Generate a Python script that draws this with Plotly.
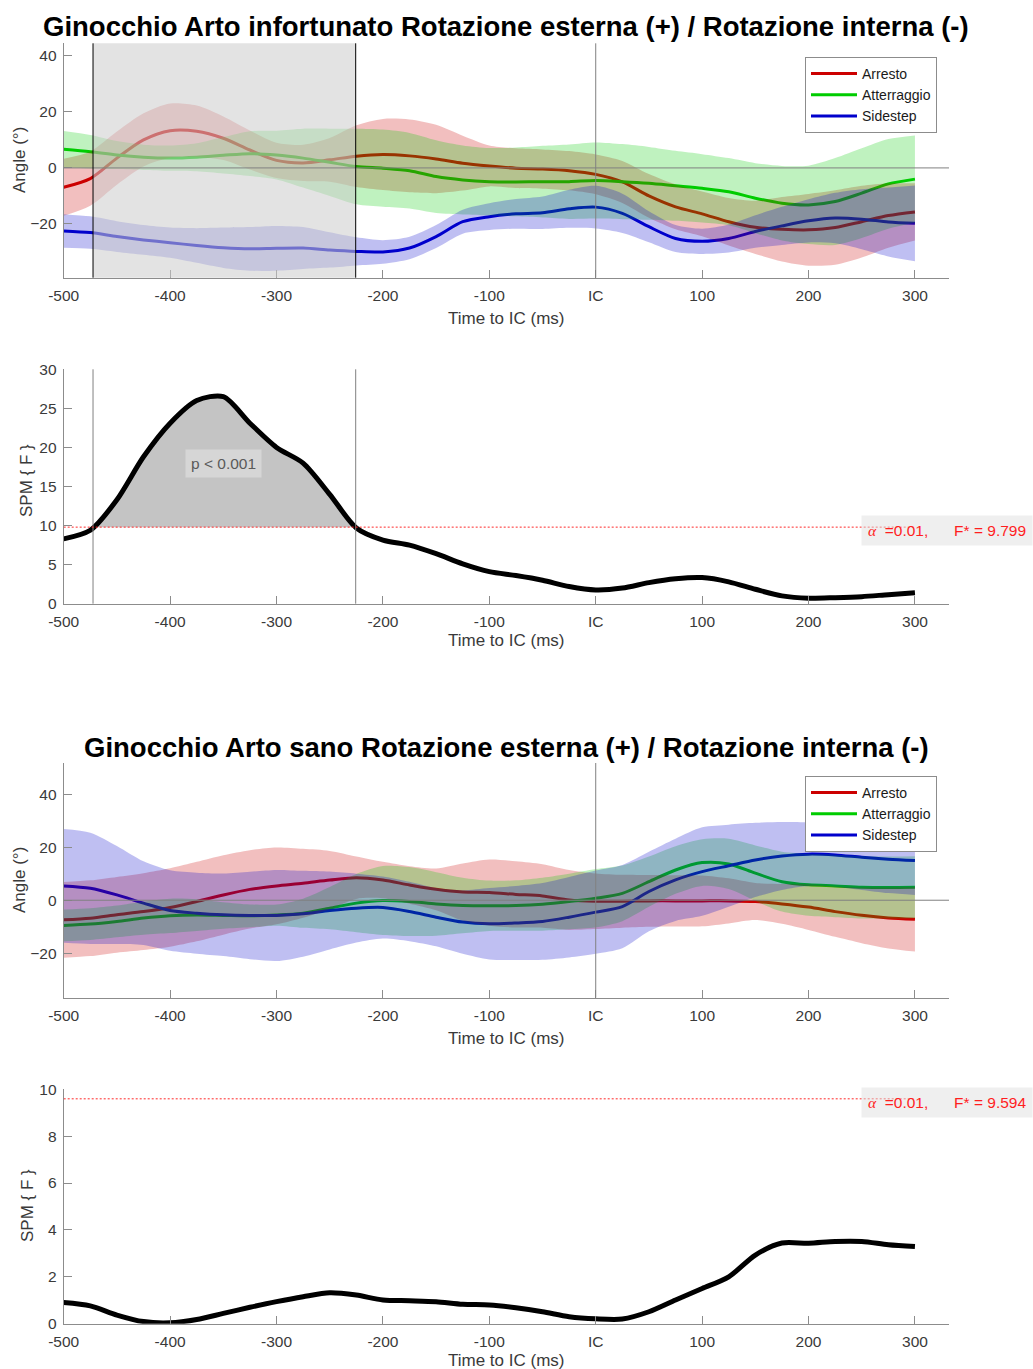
import plotly.graph_objects as go

W, H = 1033, 1369

# ---------------------------------------------------------------- data
time_ms = [-500, -475, -450, -425, -400, -375, -350, -325, -300, -275, -250,
           -225, -200, -175, -150, -125, -100, -75, -50, -25, 0, 25, 50, 75,
           100, 125, 150, 175, 200, 225, 250, 275, 300]

x_tick_vals = [-500, -400, -300, -200, -100, 0, 100, 200, 300]
x_tick_text = ["-500", "-400", "-300", "-200", "-100", "IC", "100", "200", "300"]

series_names = ["Arresto", "Atterraggio", "Sidestep"]

# Injured limb: mean and SD of knee rotation (deg)
inj_arresto_mean = [-6.9, -3.8, 3.5, 10.0, 13.3, 13.1, 10.6, 6.4, 2.7, 1.8, 2.9,
                    4.2, 4.8, 4.3, 3.2, 1.7, 0.7, -0.1, -0.4, -1.0, -2.3, -5.0,
                    -10.0, -13.9, -16.4, -19.2, -21.2, -21.9, -22.1, -21.3, -19.2,
                    -17.0, -15.7]
inj_arresto_sd = [10.2, 9.7, 9.5, 9.5, 9.7, 9.2, 7.8, 7.0, 6.3, 6.5, 7.8, 11.0,
                  12.7, 13.0, 12.2, 9.8, 7.3, 7.1, 7.0, 7.0, 7.1, 7.5, 7.8, 8.0,
                  8.0, 8.5, 9.5, 11.5, 12.8, 13.3, 12.8, 11.5, 10.2]
inj_atterraggio_mean = [6.7, 5.8, 4.6, 3.8, 3.5, 3.8, 4.5, 5.1, 4.6, 3.5, 2.0, 0.5,
                        -0.1, -1.0, -3.1, -4.3, -4.9, -5.0, -4.9, -4.9, -4.5, -4.9,
                        -5.5, -6.4, -7.3, -8.5, -10.8, -12.6, -13.2, -12.0, -9.0,
                        -5.7, -4.0]
inj_atterraggio_sd = [6.5, 6.0, 5.0, 4.5, 4.5, 5.0, 6.5, 8.0, 8.7, 10.5, 12.0, 13.5,
                      13.8, 13.5, 13.0, 12.3, 12.0, 12.3, 12.8, 13.3, 13.6, 13.4,
                      13.0, 12.5, 12.2, 12.0, 12.5, 13.3, 14.0, 15.5, 16.0, 16.0, 15.6]
inj_sidestep_mean = [-22.5, -23.1, -24.5, -25.7, -26.7, -27.7, -28.5, -28.9, -28.7,
                     -28.6, -29.3, -29.8, -30.0, -28.6, -24.5, -19.2, -17.4, -16.4,
                     -16.0, -14.6, -14.0, -16.2, -21.0, -25.2, -26.2, -25.2, -22.7,
                     -20.7, -18.9, -17.9, -18.3, -19.3, -19.8]
inj_sidestep_sd = [6.0, 5.8, 5.5, 5.3, 5.4, 6.2, 7.2, 7.8, 8.0, 7.5, 6.3, 5.0, 4.2,
                   4.0, 4.1, 4.3, 4.8, 5.3, 5.8, 6.8, 7.6, 7.0, 5.5, 4.8, 4.5, 5.0,
                   5.8, 6.8, 7.7, 9.0, 10.7, 12.3, 13.5]

# Injured limb: SPM{F} trajectory and critical threshold
inj_spm_f = [8.3, 9.4, 13.3, 18.8, 23.1, 26.0, 26.5, 23.1, 20.0, 18.0, 14.0, 9.7,
             8.15, 7.5, 6.4, 5.1, 4.1, 3.6, 3.0, 2.2, 1.76, 2.0, 2.7, 3.2, 3.35,
             2.8, 1.85, 1.0, 0.7, 0.77, 0.9, 1.16, 1.4]
inj_f_crit = 9.799
inj_p_label = "p < 0.001"

# Healthy limb: mean and SD of knee rotation (deg)
hea_arresto_mean = [-7.4, -6.8, -5.5, -4.3, -2.75, -0.5, 2.0, 4.1, 5.4, 6.4, 7.6,
                    8.5, 7.6, 5.75, 4.1, 3.1, 2.9, 2.2, 1.6, 0.1, -0.4, -0.4, -0.25,
                    -0.25, -0.25, -0.25, -0.5, -1.4, -2.6, -4.3, -5.7, -6.7, -7.2]
hea_arresto_sd = [14.3, 14.3, 14.3, 14.5, 14.8, 15.0, 15.0, 14.8, 14.5, 13.0, 11.0,
                  8.0, 6.9, 7.1, 7.9, 10.8, 12.5, 12.5, 12.0, 11.3, 10.5, 10.0, 9.8,
                  9.7, 9.6, 8.5, 7.0, 7.5, 8.6, 9.5, 10.5, 11.5, 12.2]
hea_atterraggio_mean = [-9.5, -9.0, -8.0, -6.75, -5.9, -5.6, -5.75, -5.9, -5.6, -4.9,
                        -3.0, -1.1, -0.1, -0.5, -1.4, -2.0, -2.1, -2.0, -1.5, -0.5,
                        0.75, 2.6, 7.0, 11.4, 14.2, 13.7, 10.2, 7.0, 5.8, 5.4, 4.9,
                        4.8, 4.9]
hea_atterraggio_sd = [6.0, 6.0, 6.0, 6.3, 6.5, 6.0, 5.0, 4.3, 4.0, 5.5, 8.0, 11.0,
                      13.0, 13.0, 12.0, 10.5, 9.5, 9.5, 10.0, 10.5, 11.0, 10.5, 9.5,
                      9.0, 8.8, 9.5, 10.5, 11.3, 11.7, 11.8, 11.8, 11.7, 11.7]
hea_sidestep_mean = [5.4, 4.5, 2.0, -1.1, -3.9, -4.9, -5.5, -5.75, -5.75, -5.1, -3.9,
                     -3.0, -2.75, -4.25, -6.4, -8.25, -8.9, -8.6, -8.0, -6.4, -4.5,
                     -2.4, 3.3, 7.7, 10.8, 13.0, 15.2, 16.7, 17.4, 17.1, 16.2, 15.5,
                     15.0]
hea_sidestep_sd = [21.5, 21.0, 18.5, 15.8, 15.2, 15.3, 15.6, 16.5, 17.2, 16.2, 14.7,
                   13.0, 11.7, 11.2, 11.0, 12.0, 13.5, 14.0, 14.5, 15.2, 15.7, 15.7,
                   15.0, 15.5, 16.7, 15.5, 14.0, 12.8, 12.0, 12.0, 12.3, 12.8, 13.0]

# Healthy limb: SPM{F} trajectory and critical threshold
hea_spm_f = [0.9, 0.76, 0.37, 0.09, 0.04, 0.18, 0.44, 0.7, 0.94, 1.15, 1.32, 1.22,
             1.01, 0.98, 0.94, 0.83, 0.8, 0.68, 0.51, 0.3, 0.21, 0.2, 0.51, 1.01,
             1.5, 2.0, 2.93, 3.44, 3.43, 3.51, 3.51, 3.37, 3.29]
hea_f_crit = 9.594
alpha_level = "0.01"

title_injured = "Ginocchio Arto infortunato Rotazione esterna (+) / Rotazione interna (-)"
title_healthy = "Ginocchio Arto sano Rotazione esterna (+) / Rotazione interna (-)"
x_title = "Time to IC (ms)"
angle_title = "Angle (°)"
spm_title = "SPM { F }"

# ---------------------------------------------------------------- styling
FONT = "Liberation Sans, Arial, Helvetica, sans-serif"
LINE_COLORS = ["rgb(204,0,0)", "rgb(0,204,0)", "rgb(0,0,204)"]
BAND_COLORS = ["rgba(204,0,0,0.25)", "rgba(0,204,0,0.25)", "rgba(0,0,204,0.25)"]
AXIS_GREY = "#8c8c8c"
TEXT_GREY = "#3a3a3a"
X_RANGE = [-500, 332]


def py(p):
    """Convert a pixel row (from the top) into paper y."""
    return 1 - p / H


def px(p):
    return p / W


X_DOMAIN = [px(63.7), px(949)]

fig = go.Figure()


def add_mean_sd(xa, ya, legend_id, means, sds):
    # mean curves go first so the translucent SD clouds sit on top of them
    for name, mean, color in zip(series_names, means, LINE_COLORS):
        fig.add_trace(go.Scatter(
            x=time_ms, y=mean, mode="lines", name=name, legend=legend_id,
            line=dict(color=color, width=3, shape="spline", smoothing=0.8),
            xaxis=xa, yaxis=ya, hoverinfo="skip"))
    for mean, sd, band in zip(means, sds, BAND_COLORS):
        lower = [m - s for m, s in zip(mean, sd)]
        upper = [m + s for m, s in zip(mean, sd)]
        fig.add_trace(go.Scatter(
            x=time_ms, y=lower, mode="lines", showlegend=False,
            line=dict(width=0, shape="spline", smoothing=0.8),
            xaxis=xa, yaxis=ya, hoverinfo="skip"))
        fig.add_trace(go.Scatter(
            x=time_ms, y=upper, mode="lines", showlegend=False,
            line=dict(width=0, shape="spline", smoothing=0.8),
            fill="tonexty", fillcolor=band,
            xaxis=xa, yaxis=ya, hoverinfo="skip"))


def suprathreshold_clusters(t, f, thr):
    clusters = []
    i, n = 0, len(f)
    while i < n:
        if f[i] > thr:
            j = i
            while j + 1 < n and f[j + 1] > thr:
                j += 1
            t0 = t[0] if i == 0 else t[i - 1] + (thr - f[i - 1]) * (t[i] - t[i - 1]) / (f[i] - f[i - 1])
            t1 = t[-1] if j == n - 1 else t[j] + (thr - f[j]) * (t[j + 1] - t[j]) / (f[j + 1] - f[j])
            clusters.append((t0, t1, t[i:j + 1], f[i:j + 1]))
            i = j + 1
        else:
            i += 1
    return clusters


def add_spm(xa, ya, f, thr, clusters):
    for t0, t1, ts, fs in clusters:
        fig.add_trace(go.Scatter(
            x=[t0, t1], y=[thr, thr], mode="lines", showlegend=False,
            line=dict(width=0), xaxis=xa, yaxis=ya, hoverinfo="skip"))
        fig.add_trace(go.Scatter(
            x=[t0] + ts + [t1], y=[thr] + fs + [thr], mode="lines",
            showlegend=False, line=dict(width=0, shape="spline", smoothing=0.8),
            fill="tonexty", fillcolor="rgb(196,196,196)",
            xaxis=xa, yaxis=ya, hoverinfo="skip"))
    fig.add_trace(go.Scatter(
        x=time_ms, y=f, mode="lines", showlegend=False,
        line=dict(color="black", width=5, shape="spline", smoothing=0.8),
        xaxis=xa, yaxis=ya, hoverinfo="skip"))


inj_clusters = suprathreshold_clusters(time_ms, inj_spm_f, inj_f_crit)
hea_clusters = suprathreshold_clusters(time_ms, hea_spm_f, hea_f_crit)

add_mean_sd("x", "y", "legend",
            [inj_arresto_mean, inj_atterraggio_mean, inj_sidestep_mean],
            [inj_arresto_sd, inj_atterraggio_sd, inj_sidestep_sd])
add_spm("x2", "y2", inj_spm_f, inj_f_crit, inj_clusters)
add_mean_sd("x3", "y3", "legend2",
            [hea_arresto_mean, hea_atterraggio_mean, hea_sidestep_mean],
            [hea_arresto_sd, hea_atterraggio_sd, hea_sidestep_sd])
add_spm("x4", "y4", hea_spm_f, hea_f_crit, hea_clusters)

# ---------------------------------------------------------------- axes
def x_axis(anchor):
    return dict(domain=X_DOMAIN, anchor=anchor, range=X_RANGE, automargin=False,
                tickmode="array", tickvals=x_tick_vals, ticktext=x_tick_text,
                showline=True, linecolor=AXIS_GREY, linewidth=1,
                ticks="inside", ticklen=8, tickcolor=AXIS_GREY, tickwidth=1,
                showgrid=False, zeroline=False, ticklabelstandoff=4,
                tickfont=dict(size=15.5, color=TEXT_GREY, family=FONT))


def y_axis(anchor, domain, rng, tickvals):
    return dict(domain=domain, anchor=anchor, range=rng, automargin=False,
                tickmode="array", tickvals=tickvals,
                showline=True, linecolor=AXIS_GREY, linewidth=1,
                ticks="inside", ticklen=8, tickcolor=AXIS_GREY, tickwidth=1,
                showgrid=False, zeroline=False, ticklabelstandoff=3,
                tickfont=dict(size=15.5, color=TEXT_GREY, family=FONT))


panel_px = {1: (43.3, 277.7), 2: (369.3, 603.7), 3: (763.0, 997.7), 4: (1089.3, 1323.7)}


def dom(k):
    top, bottom = panel_px[k]
    return [py(bottom), py(top)]


legend_style = dict(xanchor="left", yanchor="top", bgcolor="white",
                    bordercolor="#8c8c8c", borderwidth=1, tracegroupgap=0,
                    traceorder="normal", itemwidth=46,
                    font=dict(size=14, color="#1a1a1a", family=FONT))

fig.update_layout(
    width=W, height=H, margin=dict(l=0, r=0, t=0, b=0, autoexpand=False),
    paper_bgcolor="white", plot_bgcolor="white",
    font=dict(family=FONT, color=TEXT_GREY),
    xaxis=x_axis("y"), yaxis=y_axis("x", dom(1), [-39.2, 44.5], [-20, 0, 20, 40]),
    xaxis2=x_axis("y2"), yaxis2=y_axis("x2", dom(2), [0, 30], [0, 5, 10, 15, 20, 25, 30]),
    xaxis3=x_axis("y3"), yaxis3=y_axis("x3", dom(3), [-36.8, 51.8], [-20, 0, 20, 40]),
    xaxis4=x_axis("y4"), yaxis4=y_axis("x4", dom(4), [0, 10], [0, 2, 4, 6, 8, 10]),
    legend=dict(x=px(805), y=py(57), **legend_style),
    legend2=dict(x=px(805), y=py(776), **legend_style),
)

# ---------------------------------------------------------------- reference lines
shapes = []


def hline(xa, ya, y, color, dash="solid", x0=None, x1=None):
    if x0 is None:
        shapes.append(dict(type="line", xref=f"{xa} domain", yref=ya, x0=0, x1=1,
                           y0=y, y1=y, line=dict(color=color, width=1, dash=dash),
                           layer="above"))
    else:
        shapes.append(dict(type="line", xref=xa, yref=ya, x0=x0, x1=x1,
                           y0=y, y1=y, line=dict(color=color, width=1, dash=dash),
                           layer="above"))


def vline(xa, ya, x, color):
    shapes.append(dict(type="line", xref=xa, yref=f"{ya} domain", x0=x, x1=x,
                       y0=0, y1=1, line=dict(color=color, width=1), layer="above"))


# injured-limb kinematics: suprathreshold region shaded, IC and zero lines
for t0, t1, _, _ in inj_clusters:
    shapes.append(dict(type="rect", xref="x", yref="y domain", x0=t0, x1=t1,
                       y0=0, y1=1, fillcolor="rgba(204,204,204,0.55)",
                       line=dict(width=0), layer="above"))
hline("x", "y", 0, "#808080")
vline("x", "y", 0, "#808080")
for t0, t1, _, _ in inj_clusters:
    vline("x", "y", t0, "black")
    vline("x", "y", t1, "black")

# injured-limb SPM
for t0, t1, _, _ in inj_clusters:
    vline("x2", "y2", t0, "#808080")
    vline("x2", "y2", t1, "#808080")
hline("x2", "y2", inj_f_crit, "rgb(255,40,40)", dash="2px,2px",
      x0=time_ms[0], x1=time_ms[-1])

# healthy-limb kinematics
hline("x3", "y3", 0, "#808080")
vline("x3", "y3", 0, "#808080")

# healthy-limb SPM
for t0, t1, _, _ in hea_clusters:
    vline("x4", "y4", t0, "#808080")
    vline("x4", "y4", t1, "#808080")
hline("x4", "y4", hea_f_crit, "rgb(255,40,40)", dash="2px,2px",
      x0=time_ms[0], x1=time_ms[-1])

fig.update_layout(shapes=shapes)

# ---------------------------------------------------------------- text
ann = []
mid_x = (X_DOMAIN[0] + X_DOMAIN[1]) / 2

for text, ypix in [(title_injured, 27), (title_healthy, 747)]:
    ann.append(dict(text=f"<b>{text}</b>", xref="paper", yref="paper",
                    x=mid_x, y=py(ypix), xanchor="center", yanchor="middle",
                    showarrow=False, font=dict(size=27.5, color="black", family=FONT)))

for ypix in [318, 640, 1038, 1360]:
    ann.append(dict(text=x_title, xref="paper", yref="paper", x=mid_x, y=py(ypix),
                    xanchor="center", yanchor="middle", showarrow=False,
                    font=dict(size=17, color=TEXT_GREY, family=FONT)))

for text, xpix, ypix in [(angle_title, 19, 160), (spm_title, 27, 481),
                         (angle_title, 19, 880), (spm_title, 27, 1206)]:
    ann.append(dict(text=text, xref="paper", yref="paper", x=px(xpix), y=py(ypix),
                    xanchor="center", yanchor="middle", textangle=-90,
                    showarrow=False, font=dict(size=17, color=TEXT_GREY, family=FONT)))

# cluster p-value labels
for t0, t1, ts, fs in inj_clusters:
    ann.append(dict(text=inj_p_label, xref="x2", yref="y2",
                    x=(t0 + t1) / 2 - 1, y=18.0, xanchor="center", yanchor="middle",
                    showarrow=False, bgcolor="rgb(214,214,214)", borderpad=5,
                    font=dict(size=15.5, color="#5a5a5a", family=FONT)))

# critical threshold labels
for f_crit, ya in [(inj_f_crit, "y2"), (hea_f_crit, "y4")]:
    label = ('<span style="font-family:Liberation Serif;font-style:italic">α</span>'
             f'&nbsp; ={alpha_level},&nbsp;&nbsp;&nbsp;&nbsp;&nbsp; F* = {f_crit:.3f}')
    ann.append(dict(text=label, xref="paper", yref=ya, x=1.0, y=f_crit,
                    xanchor="right", yanchor="top", yshift=12, showarrow=False,
                    bgcolor="rgba(224,224,224,0.5)", borderpad=6,
                    font=dict(size=15.5, color="rgb(255,30,30)", family=FONT)))

fig.update_layout(annotations=ann)

fig.write_html("out.html")
